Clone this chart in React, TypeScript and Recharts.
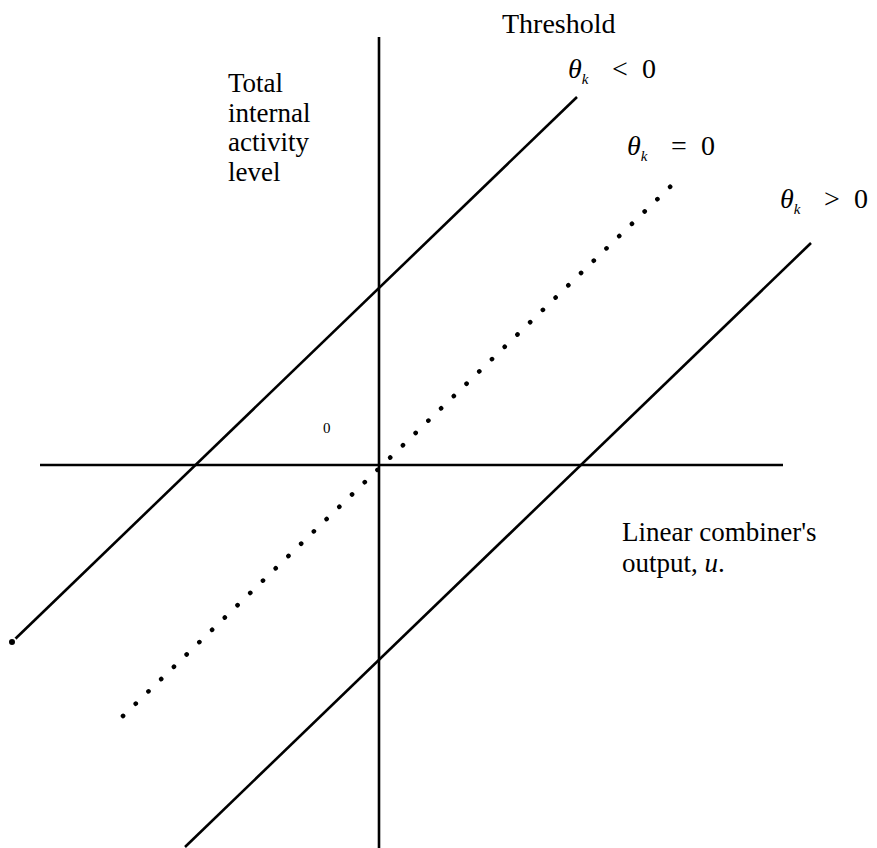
import React from "react";
import { LineChart, Line, XAxis, YAxis, Customized } from "recharts";

// Logical units: u = linear combiner's output, v = total internal activity level
const xAxisLine = [ { u: -3.39, v: 0 }, { u: 4.04, v: 0 } ];
const yAxisLine = [ { u: 0, v: 4.28 }, { u: 0, v: -3.83 } ];
const negThreshold = [ { u: -3.67, v: -1.77 }, { u: 1.98, v: 3.68 } ];
const zeroThreshold = [ { u: -2.56, v: -2.51 }, { u: 2.92, v: 2.79 } ];
const posThreshold = [ { u: -1.94, v: -3.82 }, { u: 4.32, v: 2.22 } ];

const yLabelLines = ["Total", "internal", "activity", "level"];
const thresholdOps = ["<", "=", ">"];

const xDomain = [-3.79, 4.98];
const yDomain = [-3.83, 4.65];

const FONT = "'Liberation Serif', 'Times New Roman', serif";

const Theta = ({ x, y, op }: { x: number; y: number; op: string }) => (
  <g>
    <text x={x} y={y} fontFamily={FONT} fontSize={28} fill="#000">
      <tspan fontStyle="italic">θ</tspan>
      <tspan fontStyle="italic" fontSize={15} dy={6}>k</tspan>
    </text>
    <text x={x + 44} y={y} fontFamily={FONT} fontSize={28} fill="#000">{op}</text>
    <text x={x + 74} y={y} fontFamily={FONT} fontSize={28} fill="#000">0</text>
  </g>
);

const Labels = () => (
  <g>
    <text x={502} y={33} fontFamily={FONT} fontSize={28} fill="#000">Threshold</text>
    <Theta x={568} y={78} op={thresholdOps[0]} />
    <Theta x={627} y={155} op={thresholdOps[1]} />
    <Theta x={780} y={208} op={thresholdOps[2]} />
    {yLabelLines.map((t, i) => (
      <text key={t} x={228} y={92 + i * 29.5} fontFamily={FONT} fontSize={27} fill="#000">{t}</text>
    ))}
    <text x={323} y={433} fontFamily={FONT} fontSize={15} fill="#000">0</text>
    <text x={622} y={541} fontFamily={FONT} fontSize={27} fill="#000">Linear combiner's</text>
    <text x={622} y={572} fontFamily={FONT} fontSize={27} fill="#000">
      output, <tspan fontStyle="italic">u</tspan>.
    </text>
  </g>
);

export default function App() {
  return (
    <div style={{ position: "absolute", left: 0, top: 0, background: "#fff" }}>
      <LineChart width={877} height={848} margin={{ top: 0, right: 0, bottom: 0, left: 0 }}>
        <XAxis type="number" dataKey="u" domain={xDomain} allowDataOverflow hide />
        <YAxis type="number" dataKey="v" domain={yDomain} allowDataOverflow hide />
        <Line data={xAxisLine} dataKey="v" stroke="#000" strokeWidth={2.6} dot={false} isAnimationActive={false} />
        <Line data={yAxisLine} dataKey="v" stroke="#000" strokeWidth={2.6} dot={false} isAnimationActive={false} />
        <Line data={negThreshold} dataKey="v" stroke="#000" strokeWidth={2.6} dot={false} isAnimationActive={false} />
        <Line data={zeroThreshold} dataKey="v" stroke="#000" strokeWidth={4.6} strokeDasharray="0.1 17.6" strokeLinecap="round" dot={false} isAnimationActive={false} />
        <Line data={posThreshold} dataKey="v" stroke="#000" strokeWidth={2.6} dot={false} isAnimationActive={false} />
        <Customized component={Labels} />
      </LineChart>
    </div>
  );
}
